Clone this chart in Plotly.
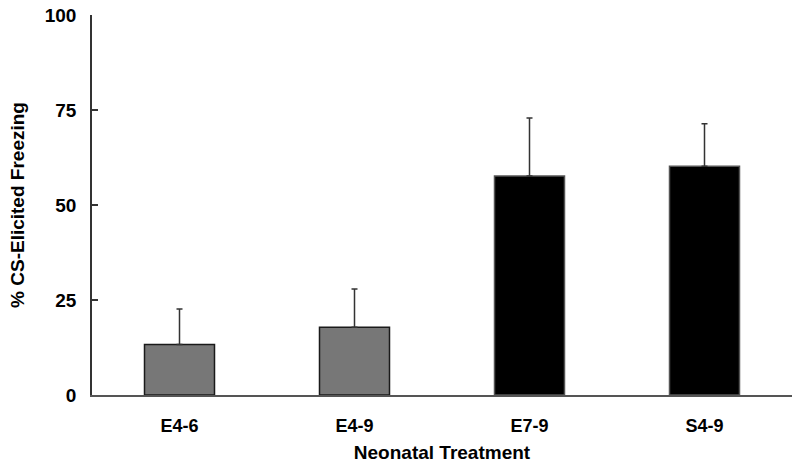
import plotly.graph_objects as go

categories = ["E4-6", "E4-9", "E7-9", "S4-9"]
means = [13.3, 17.8, 57.6, 60.2]
sem = [9.3, 10.1, 15.3, 11.2]
fill_colors = ["#777777", "#777777", "#000000", "#000000"]
line_colors = ["#1a1a1a", "#1a1a1a", "#555555", "#555555"]
y_ticks = [0, 25, 50, 75, 100]

fig = go.Figure()
fig.add_trace(go.Bar(
    x=categories, y=means,
    marker=dict(color=fill_colors, line=dict(color=line_colors, width=1.5)),
    error_y=dict(type="data", array=sem, arrayminus=[0]*4, symmetric=False,
                 color="#333333", thickness=1.5, width=3),
))

font_family = "Liberation Sans, Arial, sans-serif"
fig.update_layout(
    width=800, height=470,
    margin=dict(l=92, r=8, t=15, b=74.5, autoexpand=False),
    plot_bgcolor="white", paper_bgcolor="white",
    bargap=0.6, showlegend=False,
    font=dict(family=font_family, color="black"),
)
fig.update_xaxes(
    range=[-0.5, 3.5], showline=True, linecolor="#555555", linewidth=1.5,
    ticks="", showgrid=False, ticklabelstandoff=14, automargin=False,
    tickfont=dict(size=18, family=font_family, weight="bold"),
    title=dict(text="Neonatal Treatment", standoff=10,
               font=dict(size=19, family=font_family, weight="bold")),
)
fig.update_yaxes(
    range=[0, 100], tickvals=y_ticks, showline=True, linecolor="#333333", linewidth=1.5,
    ticks="inside", ticklen=6, tickwidth=1.5, tickcolor="#333333", showgrid=False,
    zeroline=False, ticklabelstandoff=10, automargin=False,
    tickfont=dict(size=19, family=font_family, weight="bold"),
    title=dict(text="% CS-Elicited Freezing", standoff=15,
               font=dict(size=19, family=font_family, weight="bold")),
)
fig.write_html("out.html", config={"displayModeBar": False},
               post_script="document.body.style.margin='0';")
